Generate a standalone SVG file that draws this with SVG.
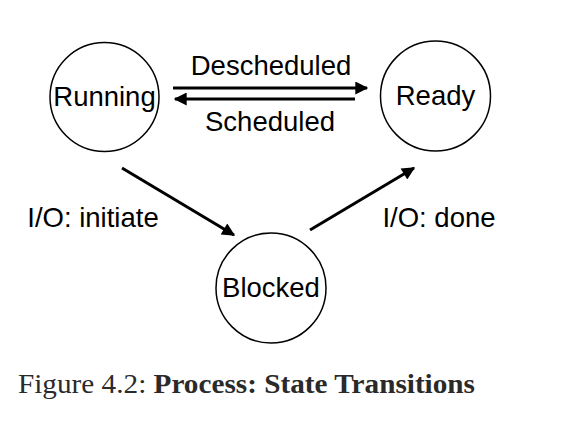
<svg xmlns="http://www.w3.org/2000/svg" width="578" height="436" viewBox="0 0 578 436">
  <style>
    .state { fill: #ffffff; stroke: #000000; stroke-width: 1.5; }
    .label { font-family: "Liberation Sans", Arial, sans-serif; font-size: 27.5px; fill: #000000; }
    .edge { stroke: #000000; stroke-width: 3; fill: none; }
    .caption { font-family: "Liberation Serif", "DejaVu Serif", serif; font-size: 28px; fill: #2a2a2a; }
  </style>
  <defs>
    <marker id="arrow" viewBox="0 0 10 10" refX="9" refY="5" markerUnits="userSpaceOnUse" markerWidth="16" markerHeight="13" orient="auto">
      <path d="M0,0 L10,5 L0,10 Z" fill="#000000"/>
    </marker>
  </defs>
  <rect width="578" height="436" fill="#ffffff"/>

  <g id="connectors">
    <line class="edge" x1="173" y1="88" x2="367" y2="88" marker-end="url(#arrow)"/>
    <line class="edge" x1="355" y1="99" x2="175" y2="99" marker-end="url(#arrow)"/>
    <line class="edge" x1="122" y1="168" x2="234" y2="235" marker-end="url(#arrow)"/>
    <line class="edge" x1="310" y1="230" x2="414" y2="168" marker-end="url(#arrow)"/>
    <text class="label" x="271" y="75" text-anchor="middle">Descheduled</text>
    <text class="label" x="270" y="131" text-anchor="middle">Scheduled</text>
    <text class="label" x="93" y="227" text-anchor="middle">I/O: initiate</text>
    <text class="label" x="439" y="227" text-anchor="middle">I/O: done</text>
  </g>

  <g id="running">
    <circle class="state" cx="104.5" cy="97" r="54.5"/>
    <text class="label" x="104.5" y="106" text-anchor="middle">Running</text>
  </g>
  <g id="ready">
    <circle class="state" cx="435.5" cy="96" r="55"/>
    <text class="label" x="435.5" y="105" text-anchor="middle">Ready</text>
  </g>
  <g id="blocked">
    <circle class="state" cx="271" cy="288" r="55"/>
    <text class="label" x="271" y="297" text-anchor="middle">Blocked</text>
  </g>

  <text class="caption" x="18" y="393" textLength="457" lengthAdjust="spacingAndGlyphs">Figure 4.2: <tspan font-weight="bold">Process: State Transitions</tspan></text>
</svg>
